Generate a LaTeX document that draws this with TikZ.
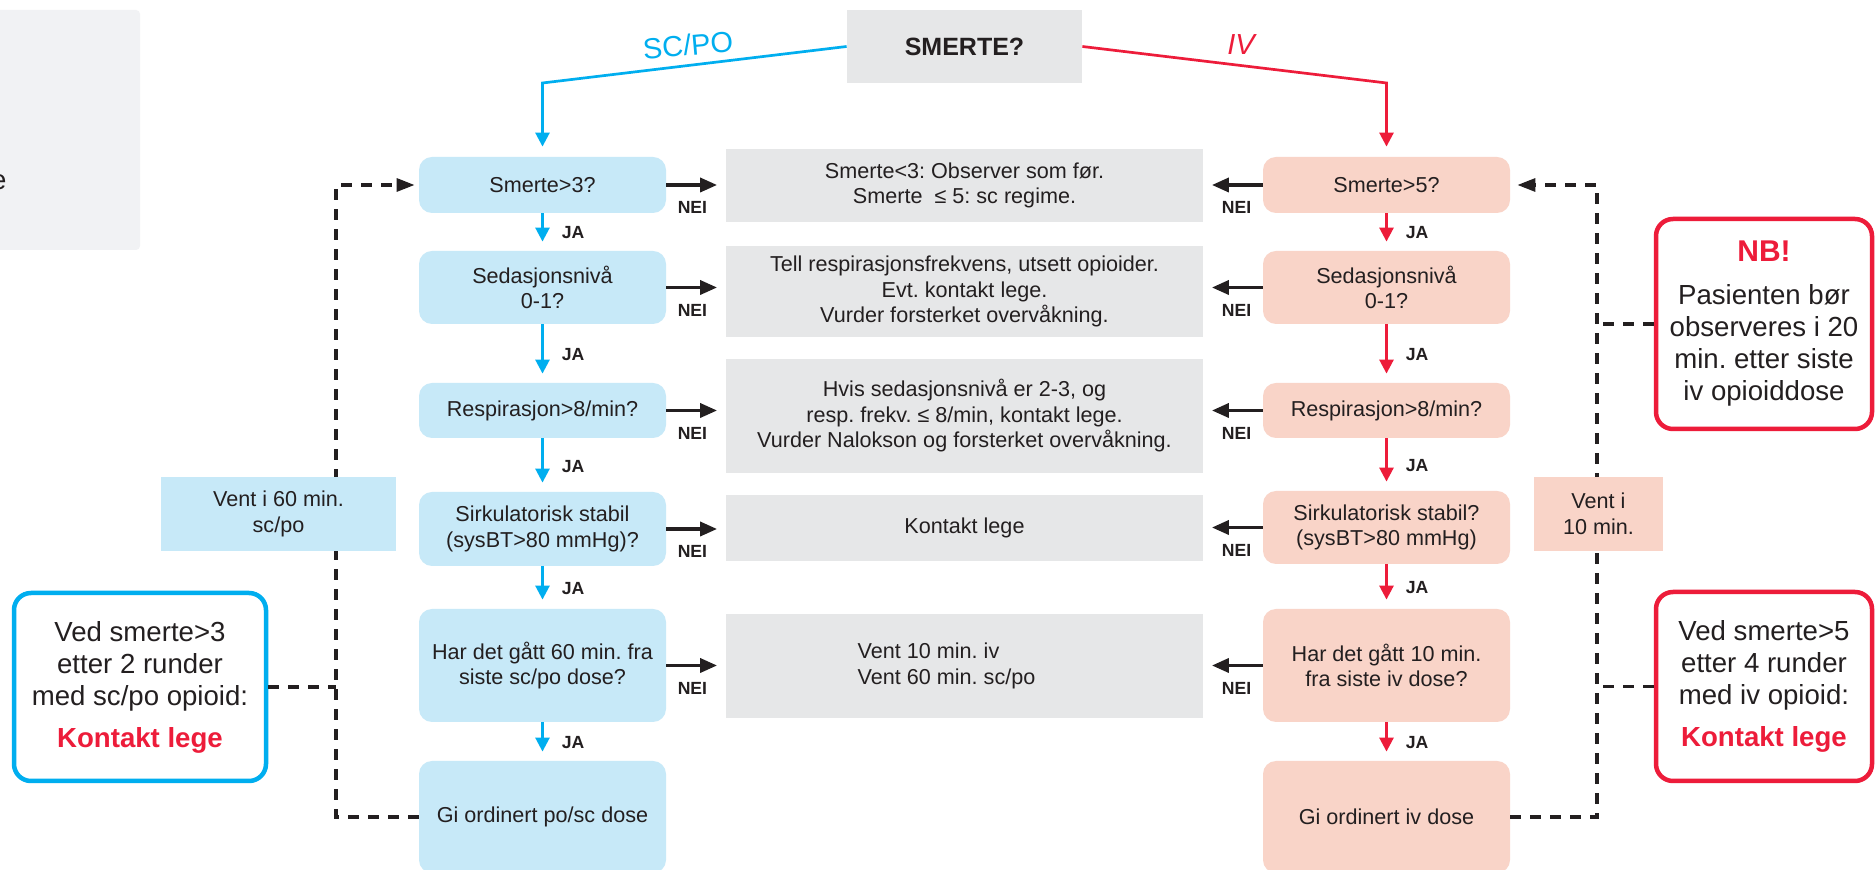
\documentclass[tikz,border=0pt]{standalone}
\usepackage{fontspec}
\setmainfont{Liberation Sans}
\usetikzlibrary{arrows.meta}
\definecolor{ink}{HTML}{231F20}
\definecolor{scline}{HTML}{00AEEF}
\definecolor{ivline}{HTML}{ED1C3A}
\definecolor{scfill}{HTML}{C7E9F8}
\definecolor{ivfill}{HTML}{F9D4C8}
\definecolor{infofill}{HTML}{E6E7E8}
\definecolor{panelfill}{HTML}{F1F2F4}
\frenchspacing

\begin{document}
\begin{tikzpicture}[x=0.5pt, y=-0.5pt,
    txt/.style={font=\fontsize{10.8}{12.75}\selectfont, text=ink, align=center, inner sep=0pt},
    scbox/.style={txt, fill=scfill, rounded corners=6.5pt, minimum width=123.5pt},
    ivbox/.style={txt, fill=ivfill, rounded corners=6.5pt, minimum width=123.5pt},
    infobox/.style={txt, fill=infofill, minimum width=238.5pt},
    notetxt/.style={font=\fontsize{13.8}{16}\selectfont, text=ink, align=center, inner sep=0pt},
    notebox/.style={notetxt, draw=#1, line width=2.25pt, rounded corners=8.5pt, fill=white},
    lbl/.style={font=\fontsize{8.8}{10}\selectfont\bfseries, text=ink, inner sep=0pt},
    jalabel/.style={lbl, right=9pt, pos=.52},
    neilabel/.style={lbl, below=7.5pt, pos=.44},
    flow/.style={line width=1.35pt, -{Triangle[length=7pt,width=7pt]}, shorten >=4.5pt},
    nei/.style={draw=ink, line width=1.75pt, -{Triangle[length=8.5pt,width=7pt]}, shorten >=4.25pt},
    dashline/.style={draw=ink, line width=1.6pt, dash pattern=on 5.5pt off 4.5pt},
  ]

\useasboundingbox (0,0) rectangle (1876,870);
\clip (0,0) rectangle (1876,870);
\fill[white] (0,0) rectangle (1876,870);

\node[txt, fill=panelfill, rounded corners=2pt, minimum width=80pt, minimum height=120pt] (panel) at (60,130) {};
\node[notetxt, anchor=base east] (paneltext) at (7,190) {e};

\node[txt, fill=infofill, font=\fontsize{12.5}{15}\selectfont\bfseries, minimum width=117.5pt, minimum height=36.5pt] (start) at (964.5,46.5) {SMERTE?};
\node[font=\fontsize{14.5}{17}\selectfont, text=scline, rotate=5] (sclabel) at (688,45) {SC/PO};
\node[font=\fontsize{14.5}{17}\selectfont\itshape, text=ivline] (ivlabel) at (1241,45) {IV};

\node[scbox, minimum height=28pt] (sc1) at (542.5,185) {Smerte>3?};
\node[scbox, minimum height=36.5pt] (sc2) at (542.5,287.5) {Sedasjonsnivå\\0-1?};
\node[scbox, minimum height=27.5pt] (sc3) at (542.5,410.5) {Respirasjon>8/min?};
\node[scbox, minimum height=37pt] (sc4) at (542.5,529) {Sirkulatorisk stabil\\(sysBT>80 mmHg)?};
\node[scbox, minimum height=56.5pt] (sc5) at (542.5,665.5) {Har det gått 60 min. fra\\siste sc/po dose?};
\node[scbox, minimum height=56pt] (sc6) at (542.5,817) {Gi ordinert po/sc dose};

\node[ivbox, minimum height=28pt] (iv1) at (1386.5,185) {Smerte>5?};
\node[ivbox, minimum height=36.5pt] (iv2) at (1386.5,287.5) {Sedasjonsnivå\\0-1?};
\node[ivbox, minimum height=27.5pt] (iv3) at (1386.5,410.5) {Respirasjon>8/min?};
\node[ivbox, minimum height=36.5pt] (iv4) at (1386.5,527.5) {Sirkulatorisk stabil?\\(sysBT>80 mmHg)};
\node[ivbox, minimum height=56.5pt] (iv5) at (1386.5,665.5) {Har det gått 10 min.\\fra siste iv dose?};
\node[ivbox, minimum height=56pt] (iv6) at (1386.5,817) {Gi ordinert iv dose};

\node[infobox, minimum height=36.5pt] (info1) at (964.5,185.5) {Smerte<3: Observer som før.\\Smerte~~≤ 5: sc regime.};
\node[infobox, minimum height=45.5pt] (info2) at (964.5,291.5) {Tell respirasjonsfrekvens, utsett opioider.\\Evt. kontakt lege.\\Vurder forsterket overvåkning.};
\node[infobox, minimum height=57pt] (info3) at (964.5,416) {Hvis sedasjonsnivå er 2-3, og\\resp. frekv. ≤ 8/min, kontakt lege.\\Vurder Nalokson og forsterket overvåkning.};
\node[infobox, minimum height=33pt] (info4) at (964.5,528) {Kontakt lege};
\node[infobox, minimum height=52pt, align=left] (info5) at (964.5,666) {Vent 10 min. iv\\Vent 60 min. sc/po\hspace*{18pt}};

\node[notebox=scline, minimum width=126pt, minimum height=94pt] (scnote) at (140,687) {Ved smerte>3\\etter 2 runder\\med sc/po opioid:\\[5pt]{\bfseries\color{ivline}Kontakt lege}};
\node[notebox=ivline, minimum width=108pt, minimum height=105pt] (nb) at (1764,324) {{\fontsize{15}{18}\selectfont\bfseries\color{ivline}NB!}\\[5.5pt]Pasienten bør\\observeres i 20\\min. etter siste\\iv opioiddose};
\node[notebox=ivline, minimum width=108pt, minimum height=94.5pt] (ivnote) at (1764,686.5) {Ved smerte>5\\etter 4 runder\\med iv opioid:\\[5pt]{\bfseries\color{ivline}Kontakt lege}};

\coordinate (scknee) at (542.5,83);
\coordinate (ivknee) at (1386.5,83);
\draw[flow, scline, shorten >=5pt] (start.west) -- (scknee) -- (sc1.north);
\draw[flow, ivline, shorten >=5pt] (start.east) -- (ivknee) -- (iv1.north);

\foreach \a/\b in {1/2,2/3,3/4,4/5,5/6} {
  \draw[flow, scline] (sc\a.south) -- (sc\b.north) node[jalabel] {JA};
  \draw[flow, ivline] (iv\a.south) -- (iv\b.north) node[jalabel] {JA};
}
\foreach \i in {1,...,5} {
  \draw[nei] (sc\i.east) -- (sc\i.east -| info\i.west) node[neilabel] {NEI};
  \draw[nei] (iv\i.west) -- (iv\i.west -| info\i.east) node[neilabel] {NEI};
}

\coordinate (scloop) at (336,500);
\coordinate (ivloop) at (1597,500);
\draw[dashline, -{Triangle[length=9pt,width=6.5pt]}, shorten >=2pt] (sc6.west) -| (scloop) |- (sc1.west);
\draw[dashline, -{Triangle[length=9pt,width=6.5pt]}, shorten >=3.5pt] (iv6.east) -| (ivloop) |- (iv1.east);
\draw[dashline] (scnote.east) -- (scnote.east -| scloop);
\draw[dashline] (nb.west) -- (nb.west -| ivloop);
\draw[dashline] (ivnote.west) -- (ivnote.west -| ivloop);

\node[txt, fill=scfill, minimum width=117.5pt, minimum height=37pt] (scwait) at (278.5,514) {Vent i 60 min.\\sc/po};
\node[txt, fill=ivfill, minimum width=64.5pt, minimum height=37pt] (ivwait) at (1598.5,514) {Vent i\\10 min.};
\end{tikzpicture}
\end{document}
